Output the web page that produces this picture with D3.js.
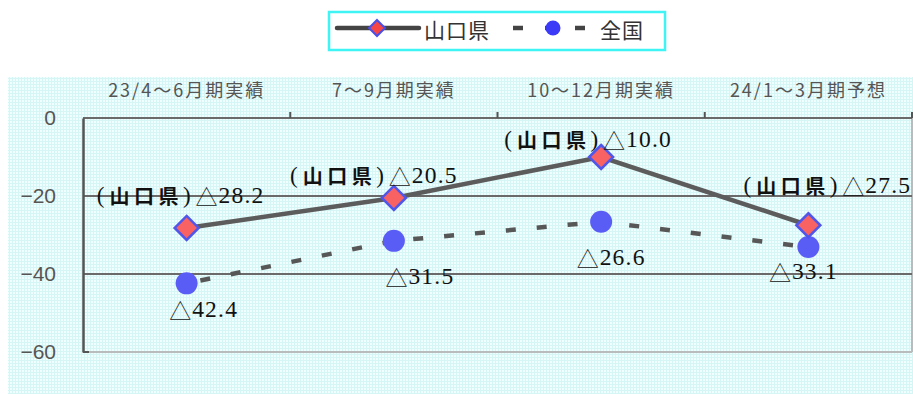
<!DOCTYPE html>
<html>
<head>
<meta charset="utf-8">
<script src="https://cdn.jsdelivr.net/npm/d3@7/dist/d3.min.js"></script>
<style>
  html, body { margin: 0; padding: 0; background: #fff; }
  svg { display: block; }
</style>
</head>
<body>
<svg id="chart" width="913" height="394"></svg>
<script>
// Business outlook index: Yamaguchi prefecture vs. national
const categories = ["23/4〜6月期実績", "7〜9月期実績", "10〜12月期実績", "24/1〜3月期予想"];
const yamaguchi = [-28.2, -20.5, -10.0, -27.5];
const national = [-42.4, -31.5, -26.6, -33.1];
const yTicks = [0, -20, -40, -60];
const seriesNames = ["山口県", "全国"];

// label nudges (px) relative to each marker
const yamaguchiLabelNudge = [[-6, -33], [-20, -23], [-13, -18], [19, -40]];
const nationalLabelNudge = [[17, 26], [26, 35], [10, 35], [-5, 24]];

const svg = d3.select("#chart");
const defs = svg.append("defs");

// fine grid texture for the chart background
const pat = defs.append("pattern")
  .attr("id", "bgGrid").attr("width", 3).attr("height", 3)
  .attr("patternUnits", "userSpaceOnUse");
pat.append("rect").attr("width", 3).attr("height", 3).attr("fill", "#effefe");
pat.append("path").attr("d", "M0,0.5H3M0.5,0V3").attr("stroke", "#d6f5f5").attr("stroke-width", 1);

svg.append("rect").attr("x", 8).attr("y", 77).attr("width", 905).attr("height", 317)
  .attr("fill", "url(#bgGrid)");

const plotL = 83, plotR = 912, plotT = 118, plotB = 352;
const x = d3.scaleBand().domain(categories).range([plotL, plotR]);
const y = d3.scaleLinear().domain([-60, 0]).range([plotB, plotT]);
const cx = c => x(c) + x.bandwidth() / 2;

const axisFont = "'Noto Sans CJK JP', 'Noto Sans', sans-serif";

// bottom and right frame
svg.append("line").attr("x1", plotL).attr("x2", plotR).attr("y1", y(-60)).attr("y2", y(-60))
  .attr("stroke", "#b8bcbc").attr("stroke-width", 2);
svg.append("line").attr("x1", plotR).attr("x2", plotR).attr("y1", plotT - 6).attr("y2", plotB)
  .attr("stroke", "#b8bcbc").attr("stroke-width", 2);

// horizontal gridlines
svg.append("g").selectAll("line").data(yTicks.filter(t => t !== -60)).join("line")
  .attr("x1", plotL).attr("x2", plotR)
  .attr("y1", d => y(d)).attr("y2", d => y(d))
  .attr("stroke", "#6a6a6a").attr("stroke-width", 2);

// y axis
const yAxis = d3.axisLeft(y).tickValues(yTicks).tickSize(0).tickPadding(27)
  .tickFormat(d => d === 0 ? "0" : "−" + Math.abs(d));
const gy = svg.append("g").attr("transform", `translate(${plotL},0)`).call(yAxis);
gy.select(".domain").attr("stroke", "#555").attr("stroke-width", 2.5);
gy.selectAll("text").attr("font-family", "'Liberation Sans', Arial, sans-serif")
  .attr("font-size", 21).attr("fill", "#555");
svg.append("line").attr("x1", plotL).attr("x2", plotL + 6).attr("y1", plotB).attr("y2", plotB)
  .attr("stroke", "#555").attr("stroke-width", 2);

// top category axis
const xAxis = d3.axisTop(x).tickSize(0).tickPadding(21);
const gx = svg.append("g").attr("transform", `translate(0,${plotT})`).call(xAxis);
gx.select(".domain").remove();
gx.selectAll("text").attr("font-family", axisFont).attr("font-size", 18).attr("fill", "#555")
  .attr("letter-spacing", 2);
svg.append("g").selectAll("line").data(categories.slice(1).concat([null])).join("line")
  .attr("x1", d => d ? x(d) : plotR).attr("x2", d => d ? x(d) : plotR)
  .attr("y1", plotT).attr("y2", plotT - 6)
  .attr("stroke", "#555").attr("stroke-width", 2);

// series lines
const lineGen = d3.line().x((d, i) => cx(categories[i])).y(d => y(d));
svg.append("path").datum(national).attr("d", lineGen)
  .attr("fill", "none").attr("stroke", "#575757").attr("stroke-width", 4.5)
  .attr("stroke-dasharray", "10,21").attr("stroke-dashoffset", -14);
svg.append("path").datum(yamaguchi).attr("d", lineGen)
  .attr("fill", "none").attr("stroke", "#5c5c5c").attr("stroke-width", 4.5);

// markers
const diamond = s => `M0,${-s}L${s},0L0,${s}L${-s},0Z`;
svg.append("g").selectAll("circle").data(national).join("circle")
  .attr("cx", (d, i) => cx(categories[i])).attr("cy", d => y(d)).attr("r", 11)
  .attr("fill", "#5a5cf6");
svg.append("g").selectAll("path").data(yamaguchi).join("path")
  .attr("transform", (d, i) => `translate(${cx(categories[i])},${y(d)})`)
  .attr("d", diamond(12))
  .attr("fill", "#f86262").attr("stroke", "#5156ea").attr("stroke-width", 2.5);

// value labels: "△" marks a negative value
const numFont = "'Liberation Serif', 'DejaVu Serif', serif";
const absText = v => Math.abs(v).toFixed(1);
const addValue = (sel, gap) => {
  sel.append("tspan").text("△").attr("dx", gap).attr("font-family", axisFont).attr("font-weight", 300)
    .attr("font-size", 22);
  sel.append("tspan").text(d => absText(d)).attr("dx", 1)
    .attr("font-family", numFont).attr("font-size", 23.5).attr("letter-spacing", 1.2);
};

const yl = svg.append("g").selectAll("text").data(yamaguchi).join("text")
  .attr("x", (d, i) => cx(categories[i]) + yamaguchiLabelNudge[i][0])
  .attr("y", (d, i) => y(d) + yamaguchiLabelNudge[i][1])
  .attr("text-anchor", "middle").attr("dominant-baseline", "central")
  .attr("fill", "#111");
yl.append("tspan").text("(").attr("font-family", numFont).attr("font-size", 23);
yl.append("tspan").text(seriesNames[0]).attr("dx", 5)
  .attr("font-family", axisFont).attr("font-weight", "bold").attr("font-size", 20)
  .attr("letter-spacing", 4.5);
yl.append("tspan").text(")").attr("font-family", numFont).attr("font-size", 23);
addValue(yl, 5);

const nl = svg.append("g").selectAll("text").data(national).join("text")
  .attr("x", (d, i) => cx(categories[i]) + nationalLabelNudge[i][0])
  .attr("y", (d, i) => y(d) + nationalLabelNudge[i][1])
  .attr("text-anchor", "middle").attr("dominant-baseline", "central")
  .attr("fill", "#111");
addValue(nl, 0);

// legend
const lg = svg.append("g");
lg.append("rect").attr("x", 329).attr("y", 12).attr("width", 336).attr("height", 38)
  .attr("fill", "#fff").attr("stroke", "#3ff4f4").attr("stroke-width", 2.5);
lg.append("line").attr("x1", 337).attr("x2", 419).attr("y1", 28).attr("y2", 28)
  .attr("stroke", "#444").attr("stroke-width", 4.5).attr("stroke-linecap", "round");
lg.append("path").attr("transform", "translate(377,28)").attr("d", diamond(8))
  .attr("fill", "#f54545").attr("stroke", "#4a4fe6").attr("stroke-width", 2);
lg.append("text").attr("x", 424).attr("y", 29).attr("dominant-baseline", "central")
  .attr("font-family", axisFont).attr("font-size", 21).attr("fill", "#333").attr("letter-spacing", 1)
  .text(seriesNames[0]);
lg.append("g").selectAll("line").data([[513, 523], [545, 555], [575, 585]]).join("line")
  .attr("x1", d => d[0]).attr("x2", d => d[1]).attr("y1", 28).attr("y2", 28)
  .attr("stroke", "#444").attr("stroke-width", 4.5);
lg.append("circle").attr("cx", 553).attr("cy", 28).attr("r", 7.5).attr("fill", "#3b3bf7");
lg.append("text").attr("x", 600).attr("y", 29).attr("dominant-baseline", "central")
  .attr("font-family", axisFont).attr("font-size", 21).attr("fill", "#333").attr("letter-spacing", 1)
  .text(seriesNames[1]);
</script>
</body>
</html>
